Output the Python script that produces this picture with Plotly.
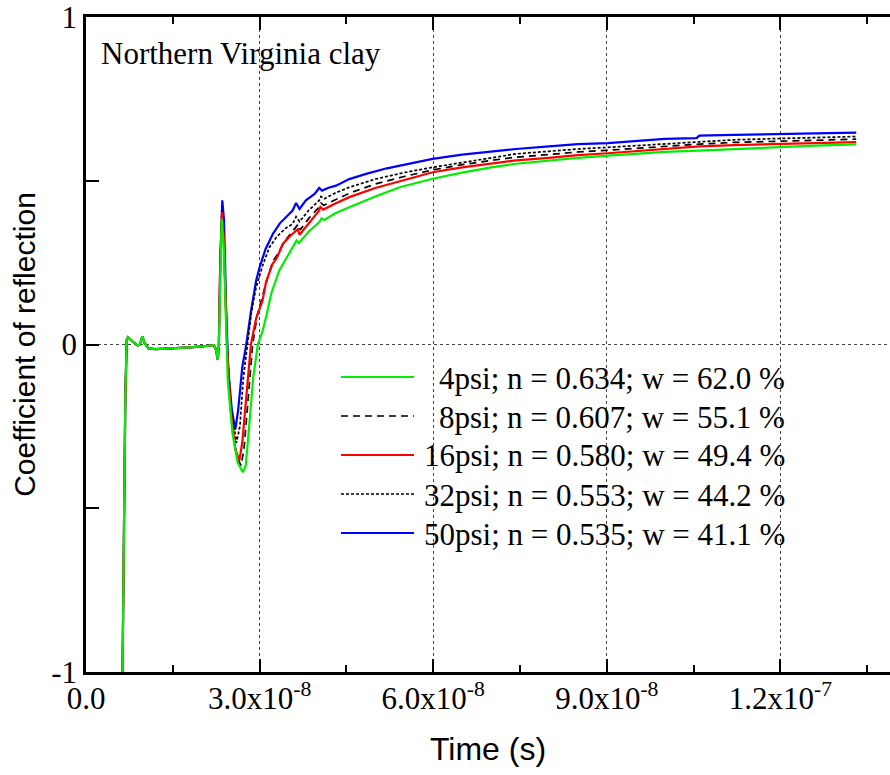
import numpy as np
import plotly.graph_objects as go

# ---------------- data (time in ns, coefficient of reflection) ----------------
t_pre = [6.30, 6.55, 6.80, 7.05, 7.25, 8.0, 8.9, 9.3, 9.75, 10.1, 10.8, 12.0, 14.0,
         16.0, 18.0, 20.0, 21.5, 22.1, 22.45, 22.75, 22.95, 23.2]
y_pre = [-1.02, -0.60, -0.15, 0.015, 0.022, 0.010, -0.003, 0.000, 0.025, 0.005, -0.012,
         -0.014, -0.013, -0.011, -0.009, -0.006, -0.003, -0.002, -0.015, -0.045, -0.010, 0.25]

t_50 = [23.55, 23.85, 24.2, 24.6, 25.2, 25.8, 26.3, 27.0, 27.7, 28.5, 29.4, 30.0, 31.0,
        32.3, 33.5, 34.8, 35.7, 36.3, 36.9, 38.0, 39.5, 40.3, 40.8, 41.8, 43.2, 45.5,
        48.4, 52, 56, 59.9, 65, 70, 74.3, 80, 85, 90.2, 95, 100, 105.5, 106.0, 112,
        119.8, 126, 133.1]
y_50 = [0.44, 0.38, 0.12, -0.08, -0.20, -0.26, -0.20, -0.07, 0.0, 0.10, 0.195, 0.236, 0.29,
        0.338, 0.37, 0.395, 0.409, 0.432, 0.414, 0.44, 0.46, 0.478, 0.47, 0.478, 0.485, 0.505,
        0.521, 0.538, 0.553, 0.567, 0.58, 0.59, 0.597, 0.605, 0.612, 0.615, 0.622, 0.628, 0.630,
        0.638, 0.640, 0.643, 0.645, 0.647]

t_32 = [23.5, 23.8, 24.3, 25.0, 26.0, 26.6, 27.2, 27.9, 28.6, 29.4, 30.5, 31.7, 33.0, 34.5,
        35.7, 36.3, 36.9, 38.5, 40.3, 40.6, 41.2, 43, 45.5, 50, 55, 59.9, 65, 70, 74.3, 80,
        85, 90.2, 95, 100, 106, 112, 119.8, 126, 133.1]
y_32 = [0.41, 0.33, 0.02, -0.18, -0.30, -0.25, -0.10, 0.0, 0.10, 0.175, 0.24, 0.297, 0.33, 0.355,
        0.368, 0.39, 0.375, 0.41, 0.44, 0.452, 0.445, 0.462, 0.48, 0.505, 0.525, 0.541, 0.556,
        0.571, 0.582, 0.59, 0.597, 0.602, 0.607, 0.613, 0.62, 0.625, 0.629, 0.632, 0.635]

t_16 = [23.5, 23.8, 24.4, 25.0, 25.8, 26.5, 27.0, 27.7, 28.5, 29.4, 30.5, 31.1, 32.2, 33.0,
        34.0, 35.2, 36.4, 36.6, 36.9, 38.5, 40.3, 40.5, 41.0, 43, 45.5, 50, 55, 59.9, 65, 70,
        74.3, 80, 85, 90.2, 95, 100, 106, 112, 119.8, 126, 133.1]
y_16 = [0.404, 0.33, -0.02, -0.20, -0.32, -0.354, -0.30, -0.15, 0.0, 0.08, 0.134, 0.19, 0.245,
        0.265, 0.307, 0.33, 0.35, 0.352, 0.335, 0.37, 0.409, 0.42, 0.412, 0.43, 0.45, 0.478,
        0.503, 0.526, 0.541, 0.553, 0.562, 0.57, 0.578, 0.584, 0.59, 0.596, 0.605, 0.609,
        0.613, 0.616, 0.618]

t_8 = [23.5, 23.8, 24.4, 25.2, 26.0, 26.8, 27.3, 28.0, 28.8, 29.6, 30.5, 31.4, 32.3, 33.3,
       34.3, 35.5, 36.4, 36.7, 37.0, 38.5, 40.3, 40.6, 41.1, 43, 45.5, 50, 55, 59.9, 65, 70,
       74.3, 80, 85, 90.2, 95, 100, 106, 112, 119.8, 126, 133.1]
y_8 = [0.40, 0.32, -0.03, -0.22, -0.34, -0.37, -0.32, -0.17, 0.0, 0.09, 0.15, 0.205, 0.255,
       0.28, 0.315, 0.34, 0.36, 0.368, 0.35, 0.385, 0.42, 0.432, 0.425, 0.44, 0.462, 0.49,
       0.513, 0.533, 0.549, 0.562, 0.572, 0.58, 0.588, 0.593, 0.599, 0.605, 0.612, 0.617,
       0.62, 0.624, 0.627]

t_4 = [23.45, 23.8, 24.5, 25.3, 26.2, 27.1, 27.6, 28.2, 28.9, 29.7, 30.5, 31.2, 32.0, 33.4,
       34.5, 35.4, 36.0, 36.4, 36.8, 38.5, 40.3, 40.7, 41.2, 43, 45.5, 50, 54.2, 59.9, 65,
       70, 74.3, 80, 85, 90.2, 95, 100, 106, 112, 119.8, 126, 133.1]
y_4 = [0.384, 0.30, -0.11, -0.27, -0.36, -0.39, -0.37, -0.25, -0.10, 0.0, 0.04, 0.09, 0.155,
       0.226, 0.26, 0.285, 0.302, 0.318, 0.31, 0.345, 0.373, 0.385, 0.38, 0.40, 0.419, 0.452,
       0.48, 0.506, 0.525, 0.541, 0.552, 0.562, 0.57, 0.577, 0.583, 0.588, 0.592, 0.597,
       0.602, 0.607, 0.611]

labels = ["4psi; n = 0.634; w = 62.0 %", "8psi; n = 0.607; w = 55.1 %",
          "16psi; n = 0.580; w = 49.4 %", "32psi; n = 0.553; w = 44.2 %",
          "50psi; n = 0.535; w = 41.1 %"]

x_tickvals = [0, 3e-8, 6e-8, 9e-8, 1.2e-7]
x_ticktext = ["0.0", "3.0x10<sup>-8</sup>", "6.0x10<sup>-8</sup>", "9.0x10<sup>-8</sup>",
              "1.2x10<sup>-7</sup>"]
y_tickvals = [-1, 0, 1]
y_ticktext = ["-1", "0", "1"]

# ---------------- styles ----------------
GREEN, RED, BLUE, BLACK = "#00ee00", "#ff0000", "#0000ff", "#000000"
DASH8, DOT32 = "7px,5px", "3px,2px"
series = [  # (t, y, label, color, dash)
    (t_50, y_50, labels[4], BLUE, "solid"),
    (t_32, y_32, labels[3], BLACK, DOT32),
    (t_8, y_8, labels[1], BLACK, DASH8),
    (t_16, y_16, labels[2], RED, "solid"),
    (t_4, y_4, labels[0], GREEN, "solid"),
]

W, H = 890, 775
L, R, T, B = 86, 0, 17, 103
PW, PH = W - L - R, H - T - B
x_max = PW / 173.6 * 3e-8

fig = go.Figure()
for t, y, lab, col, dash in series:
    tt = np.array(t_pre + t) * 1e-9
    yy = np.array(y_pre + y)
    fig.add_trace(go.Scatter(x=tt, y=yy, mode="lines", name=lab,
                             line=dict(color=col, width=2.2 if dash == "solid" else 1.7, dash=dash),
                             showlegend=False))

serif = "Liberation Serif, Times New Roman, serif"
sans = "Liberation Sans, Arial, sans-serif"

def px_x(p):
    return (p - L) / PW

def px_y(p):
    return (H - B - p) / PH

# manual legend (text right-aligned like the original)
legend_order = [(labels[0], GREEN, "solid", 2), (labels[1], BLACK, DASH8, 1.6),
                (labels[2], RED, "solid", 2), (labels[3], BLACK, DOT32, 1.6),
                (labels[4], BLUE, "solid", 2)]
row0, row_gap = 377, 39
shapes = []
annotations = []
for i, (lab, col, dash, w) in enumerate(legend_order):
    ry = row0 + i * row_gap
    shapes.append(dict(type="line", xref="paper", yref="paper", x0=px_x(341), x1=px_x(414),
                       y0=px_y(ry), y1=px_y(ry), line=dict(color=col, width=w, dash=dash)))
    annotations.append(dict(text=lab, xref="paper", yref="paper", x=px_x(787), y=px_y(ry + 1),
                            xanchor="right", yanchor="middle", showarrow=False,
                            font=dict(family=serif, size=31, color="black")))

annotations.append(dict(text="Northern Virginia clay", xref="paper", yref="paper",
                        x=px_x(99), y=px_y(53), xanchor="left", yanchor="middle",
                        showarrow=False, font=dict(family=serif, size=31, color="black")))

fig.update_layout(
    width=W, height=H,
    margin=dict(l=L, r=R, t=T, b=B, pad=0),
    paper_bgcolor="white", plot_bgcolor="white",
    shapes=shapes, annotations=annotations,
    showlegend=False,
)
fig.update_xaxes(
    range=[0, x_max], tickmode="array", tickvals=x_tickvals, ticktext=x_ticktext,
    ticks="inside", ticklen=13, tickwidth=2, tickcolor="black",
    showline=True, linecolor="black", linewidth=2.5, mirror="ticks",
    showgrid=True, griddash="dot", gridcolor="#444444", gridwidth=1, zeroline=False,
    tickfont=dict(family=serif, size=31, color="black"), ticklabelstandoff=-3,
    ticklabeloverflow="allow",
    minor=dict(tickmode="linear", tick0=0, dtick=1.5e-8, ticks="inside", ticklen=7,
               tickwidth=2, tickcolor="black", showgrid=False),
    title=dict(text="Time (s)", font=dict(family=sans, size=32, color="black"), standoff=23),
)
fig.update_yaxes(
    range=[-1, 1], tickmode="array", tickvals=y_tickvals, ticktext=y_ticktext,
    ticks="inside", ticklen=13, tickwidth=2, tickcolor="black",
    showline=True, linecolor="black", linewidth=2.5, mirror=False,
    showgrid=True, griddash="dot", gridcolor="#444444", gridwidth=1, zeroline=False,
    tickfont=dict(family=serif, size=31, color="black"), ticklabelstandoff=0,
    ticklabeloverflow="allow",
    minor=dict(tickmode="array", tickvals=[-0.5, 0.5], ticks="inside", ticklen=13,
               tickwidth=2, tickcolor="black", showgrid=False),
    title=dict(text="Coefficient of reflection", font=dict(family=sans, size=30, color="black"),
               standoff=7),
)

fig.write_html("out.html")
